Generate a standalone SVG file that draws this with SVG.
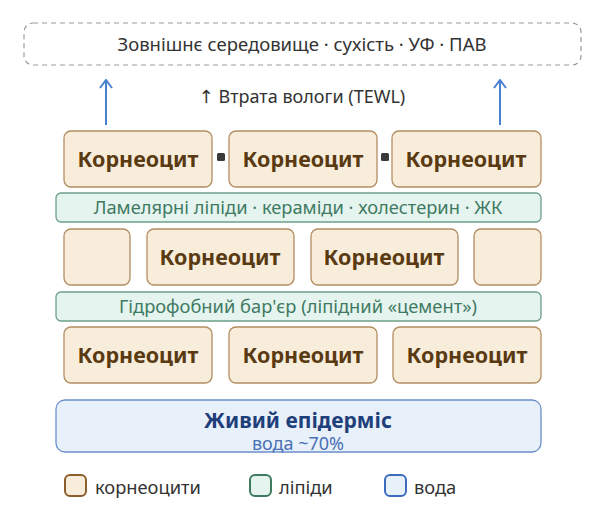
<svg xmlns="http://www.w3.org/2000/svg" width="596" height="520" viewBox="0 0 596 520">
<defs>
<style>
text{font-family:"Noto Sans","Open Sans","DejaVu Sans",sans-serif;text-anchor:middle}
.cell{fill:#f8eddb;stroke:#b38d62;stroke-width:1.3}
.ct{font-size:21.5px;font-weight:bold;fill:#5a3a12}
.lip{fill:#e5f4ee;stroke:#6e9f88;stroke-width:1.3}
.lt{font-size:18.3px;fill:#3f7a63}
.arr{stroke:#4a80d0;stroke-width:2;fill:none}
.jn{fill:#3a3a3a}
.lg{font-size:18.3px;fill:#333;text-anchor:start}
</style>
<marker id="ah" viewBox="0 0 10 14" refX="9" refY="7" markerWidth="10" markerHeight="14" markerUnits="userSpaceOnUse" orient="auto">
<path d="M1,1 L9,7 L1,13" fill="none" stroke="#4a80d0" stroke-width="2" stroke-linejoin="miter"/>
</marker>
</defs>
<g id="env">
<rect x="24" y="23" width="557" height="42" rx="9" fill="none" stroke="#9a9a9a" stroke-width="1.2" stroke-dasharray="5,4"/>
<text x="302" y="51" font-size="18.5" fill="#333">Зовнішнє середовище · сухість · УФ · ПАВ</text>
</g>
<g id="connectors">
<line class="arr" x1="106" y1="125" x2="106" y2="80" marker-end="url(#ah)"/>
<line class="arr" x1="500" y1="125" x2="500" y2="80" marker-end="url(#ah)"/>
<text x="302" y="103" font-size="18" fill="#333">↑ Втрата вологи (TEWL)</text>
</g>
<g id="row1">
<rect class="cell" x="64" y="131" width="148" height="56" rx="7"/>
<text class="ct" x="138" y="167">Корнеоцит</text>
<rect class="cell" x="229" y="131" width="148" height="56" rx="7"/>
<text class="ct" x="303" y="167">Корнеоцит</text>
<rect class="cell" x="392" y="131" width="149" height="56" rx="7"/>
<text class="ct" x="466" y="167">Корнеоцит</text>
<rect class="jn" x="217" y="153" width="8" height="8" rx="1.5"/>
<rect class="jn" x="381" y="153" width="8" height="8" rx="1.5"/>
</g>
<g id="lipid1">
<rect class="lip" x="56" y="193" width="485" height="29" rx="5"/>
<text class="lt" x="298" y="214">Ламелярні ліпіди · кераміди · холестерин · ЖК</text>
</g>
<g id="row2">
<rect class="cell" x="64" y="229" width="66" height="56" rx="7"/>
<rect class="cell" x="147" y="229" width="147" height="56" rx="7"/>
<text class="ct" x="220" y="265">Корнеоцит</text>
<rect class="cell" x="311" y="229" width="147" height="56" rx="7"/>
<text class="ct" x="384" y="265">Корнеоцит</text>
<rect class="cell" x="474" y="229" width="67" height="56" rx="7"/>
</g>
<g id="lipid2">
<rect class="lip" x="56" y="292" width="485" height="29" rx="5"/>
<text class="lt" x="298" y="313">Гідрофобний бар'єр (ліпідний «цемент»)</text>
</g>
<g id="row3">
<rect class="cell" x="64" y="327" width="148" height="56" rx="7"/>
<text class="ct" x="138" y="363">Корнеоцит</text>
<rect class="cell" x="229" y="327" width="148" height="56" rx="7"/>
<text class="ct" x="303" y="363">Корнеоцит</text>
<rect class="cell" x="393" y="327" width="148" height="56" rx="7"/>
<text class="ct" x="467" y="363">Корнеоцит</text>
</g>
<g id="epidermis">
<rect x="56" y="400" width="485" height="52" rx="9" fill="#e8f0fa" stroke="#6a90cc" stroke-width="1.3"/>
<text x="298" y="428" font-size="21" font-weight="bold" fill="#1f3f7a">Живий епідерміс</text>
<text x="298" y="450" font-size="18" fill="#4a70b5">вода ~70%</text>
</g>
<g id="legend">
<rect x="65" y="475" width="21" height="21" rx="5" fill="#f8eddb" stroke="#8b5e2b" stroke-width="2"/>
<text class="lg" x="95" y="494">корнеоцити</text>
<rect x="250" y="475" width="21" height="21" rx="5" fill="#e5f4ee" stroke="#3d7a5e" stroke-width="2"/>
<text class="lg" x="279" y="494">ліпіди</text>
<rect x="385" y="475" width="21" height="21" rx="5" fill="#e8f0fa" stroke="#3b6cc0" stroke-width="2"/>
<text class="lg" x="414" y="494">вода</text>
</g>
</svg>
